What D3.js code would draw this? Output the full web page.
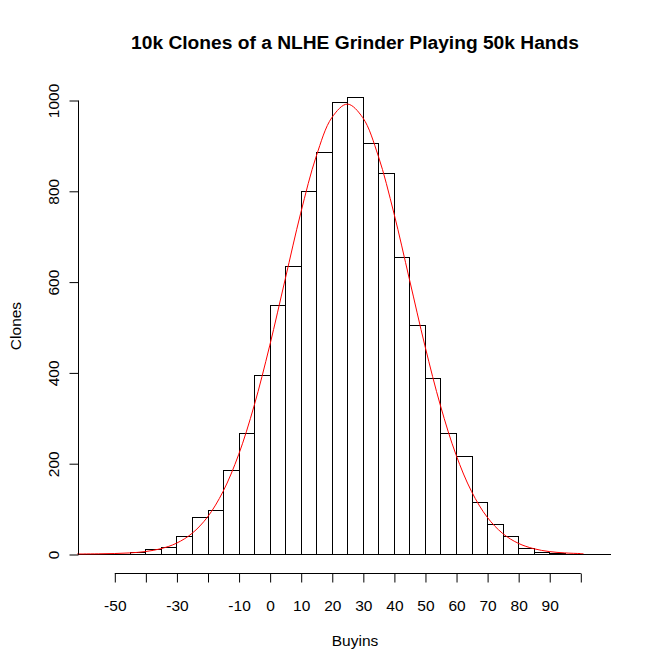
<!DOCTYPE html>
<html>
<head>
<meta charset="utf-8">
<script src="https://cdn.jsdelivr.net/npm/d3@7"></script>
<style>
  html, body { margin: 0; padding: 0; background: #fff; }
  svg { display: block; font-family: "Liberation Sans", Arial, sans-serif; }
</style>
</head>
<body>
<svg id="chart" width="672" height="671"></svg>
<script>
// ---- Data ----
const binLefts = [-45,-40,-35,-30,-25,-20,-15,-10,-5,0,5,10,15,20,25,30,35,40,45,50,55,60,65,70,75,80,85,90];
const counts   = [4,12,15,40,81,98,184,266,394,548,634,800,885,995,1007,905,839,654,504,388,266,215,114,65,39,13,5,2];
const binWidth = 5;

// fitted normal curve
const curveX = [-62,-60,-55,-50,-45,-40,-35,-30,-25,-20,-15,-10,-5,0,5,10,15,20,25,30,35,40,45,50,55,60,65,70,75,80,85,90,95,100,101];
const curveY = [0.1,0.1,0.4,1,2.4,5.4,11.7,23.7,45.3,81.4,137.6,218.5,326.4,458.3,604.9,750.8,876,960.9,991,960.9,876,750.8,604.9,458.3,326.4,218.5,137.6,81.4,45.3,23.7,11.7,5.4,2.4,1,0.8];

const xTicks = [-50,-40,-30,-20,-10,0,10,20,30,40,50,60,70,80,90,100];
const xTickLabels = ["-50","","-30","","-10","0","10","20","30","40","50","60","70","80","90",""];
const yTicks = [0,200,400,600,800,1000];
const yTickLabels = ["0","200","400","600","800","1000"];

const title = "10k Clones of a NLHE Grinder Playing 50k Hands";
const xLabel = "Buyins";
const yLabel = "Clones";

// ---- Layout ----
const plotLeft = 78, plotRight = 611;
const axisY = 573.5;

const svg = d3.select("#chart");
const x = d3.scaleLinear().domain([-50, 100]).range([114.3, 580.3]);
const y = d3.scaleLinear().domain([0, 1000]).range([554, 100]);
const sx = v => Math.round(x(v)) + 0.5;
const sy = v => Math.round(y(v)) + 0.5;

// bars
svg.append("g").selectAll("rect")
  .data(binLefts.map((b, i) => ({b, c: counts[i]})))
  .join("rect")
  .attr("x", d => sx(d.b))
  .attr("y", d => sy(d.c))
  .attr("width", d => sx(d.b + binWidth) - sx(d.b))
  .attr("height", d => sy(0) - sy(d.c))
  .attr("fill", "none")
  .attr("stroke", "#000")
  .attr("stroke-width", 1);

// baseline
svg.append("line")
  .attr("x1", plotLeft).attr("x2", plotRight)
  .attr("y1", sy(0)).attr("y2", sy(0))
  .attr("stroke", "#000").attr("stroke-width", 1);

// red normal curve
svg.append("path")
  .datum(curveX.map((v, i) => [v, curveY[i]]))
  .attr("d", d3.line().x(d => x(d[0])).y(d => y(d[1])).curve(d3.curveCatmullRom))
  .attr("fill", "none")
  .attr("stroke", "#ff0000")
  .attr("stroke-width", 1);

// x axis
const xAxis = d3.axisBottom(x)
  .tickValues(xTicks)
  .tickFormat((d, i) => xTickLabels[i])
  .tickSize(9).tickSizeOuter(0).tickPadding(17);
const gx = svg.append("g").attr("transform", `translate(0.5,${axisY})`).call(xAxis);
gx.select(".domain").remove();
gx.selectAll(".tick line").attr("stroke", "#000");
gx.selectAll(".tick text").attr("fill", "#000").style("font-size", "15.5px").attr("dy", "0.71em").attr("y", 26);
gx.append("line")
  .attr("x1", x(xTicks[0])).attr("x2", x(xTicks[xTicks.length - 1]))
  .attr("y1", 0).attr("y2", 0).attr("stroke", "#000");

// y axis
const yAxis = d3.axisLeft(y).tickValues(yTicks)
  .tickFormat((d, i) => yTickLabels[i])
  .tickSize(9).tickSizeOuter(0);
const gy = svg.append("g").attr("transform", `translate(${plotLeft + 0.5},0.5)`).call(yAxis);
gy.select(".domain").remove();
gy.selectAll(".tick line").attr("stroke", "#000");
gy.selectAll(".tick text")
  .attr("fill", "#000").style("font-size", "15.5px")
  .attr("x", null).attr("dy", null)
  .attr("text-anchor", "middle")
  .attr("transform", "translate(-20,0) rotate(-90)");
gy.append("line")
  .attr("x1", 0).attr("x2", 0)
  .attr("y1", y(yTicks[0])).attr("y2", y(yTicks[yTicks.length - 1]))
  .attr("stroke", "#000");

// title and labels
svg.append("text")
  .attr("x", 355).attr("y", 49)
  .attr("text-anchor", "middle")
  .style("font-size", "19.2px").style("font-weight", "bold")
  .text(title);

svg.append("text")
  .attr("x", 355).attr("y", 646)
  .attr("text-anchor", "middle")
  .style("font-size", "15.5px")
  .text(xLabel);

svg.append("text")
  .attr("transform", "translate(21,326) rotate(-90)")
  .attr("text-anchor", "middle")
  .style("font-size", "15.5px")
  .text(yLabel);
</script>
</body>
</html>
